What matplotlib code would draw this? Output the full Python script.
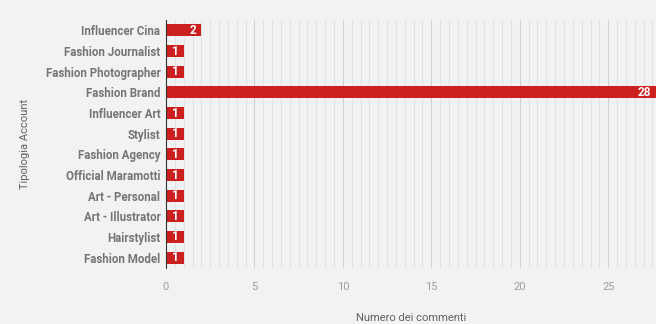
import matplotlib
matplotlib.use("Agg")
import matplotlib.pyplot as plt
import numpy as np
from matplotlib.ticker import MultipleLocator

plt.rcParams['font.family'] = ['Roboto', 'DejaVu Sans']

categories = ["Influencer Cina", "Fashion Journalist", "Fashion Photographer", "Fashion Brand",
              "Influencer Art", "Stylist", "Fashion Agency", "Official Maramotti",
              "Art - Personal", "Art - Illustrator", "Hairstylist", "Fashion Model"]
values = [2, 1, 1, 28, 1, 1, 1, 1, 1, 1, 1, 1]

bg = "#f2f2f2"
red = "#cc1f1f"
xmax = 27.7

fig = plt.figure(figsize=(6.56, 3.24), dpi=100, facecolor=bg)
ax = fig.add_axes([0.253, 0.173, 0.747, 0.765], facecolor=bg)

y = np.arange(len(categories))
ax.barh(y, values, height=0.58, color=red, zorder=3)

# numeri bianchi dentro la barra
for yi, v in zip(y, values):
    ax.annotate(str(v), (min(v, xmax), yi), xytext=(-3.5, 0), textcoords="offset points",
                ha="right", va="center", color="white", fontsize=8.5, fontweight="bold",
                zorder=4, annotation_clip=False)

ax.set_yticks(y)
ax.set_yticklabels(categories, fontsize=8.3, fontweight="bold", color="#757575")
ax.set_ylim(len(categories) - 0.5, -0.5)
ax.set_xlim(0, xmax)

ax.xaxis.set_major_locator(MultipleLocator(5))
ax.xaxis.set_minor_locator(MultipleLocator(0.5))
ax.grid(axis="x", which="minor", color="#e2e2e2", linewidth=0.8, zorder=0)
ax.grid(axis="x", which="major", color="#d2d2d2", linewidth=0.8, zorder=0)
ax.tick_params(axis="x", which="both", length=0, labelsize=8, labelcolor="#9e9e9e", pad=10)
ax.tick_params(axis="y", length=0, pad=4)

for s in ["top", "right", "bottom"]:
    ax.spines[s].set_visible(False)
ax.spines["left"].set_color("#333333")
ax.spines["left"].set_zorder(5)

ax.set_xlabel("Numero dei commenti", fontsize=8, color="#616161", labelpad=15)
ax.set_ylabel("Tipologia Account", fontsize=8, color="#616161", labelpad=11)

fig.savefig("out.png", dpi=100, facecolor=bg)
